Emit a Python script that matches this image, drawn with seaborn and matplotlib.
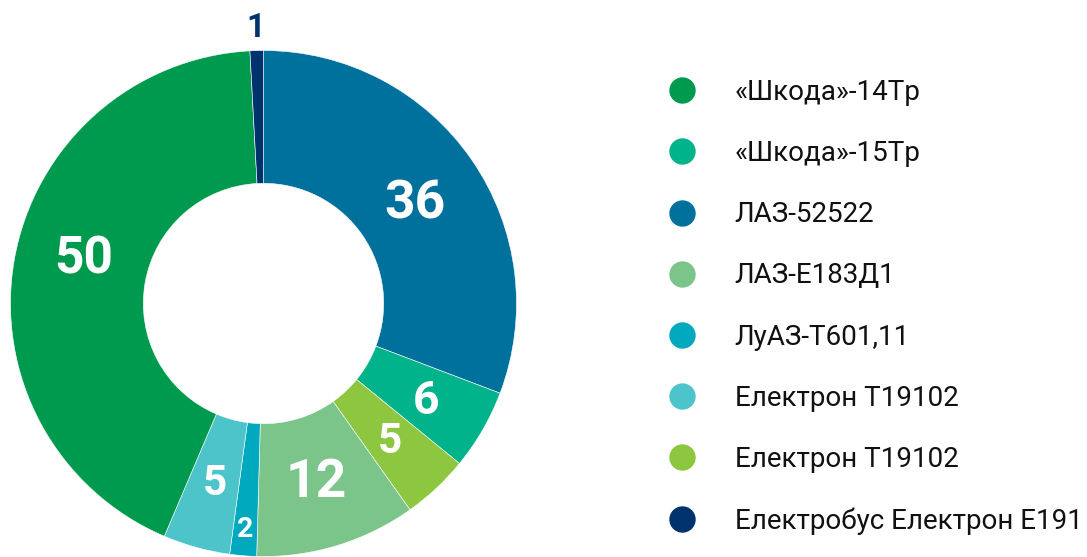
import numpy as np
import seaborn as sns
import matplotlib.pyplot as plt
from matplotlib.lines import Line2D

# slices, clockwise from 12 o'clock
slice_names = ['ЛАЗ-52522', '«Шкода»-15Тр', 'Електрон Т19102 (2)', 'ЛАЗ-Е183Д1',
               'ЛуАЗ-Т601,11', 'Електрон Т19102', '«Шкода»-14Тр', 'Електробус Електрон Е191']
slice_values = [36, 6, 5, 12, 2, 5, 50, 1]
slice_colors = ['#00709c', '#00b38a', '#8dc63f', '#7bc58a',
                '#00a9bd', '#4dc3ca', '#009a4e', '#00326e']

# legend, top to bottom
legend_labels = ['«Шкода»-14Тр', '«Шкода»-15Тр', 'ЛАЗ-52522', 'ЛАЗ-Е183Д1',
                 'ЛуАЗ-Т601,11', 'Електрон Т19102', 'Електрон Т19102',
                 'Електробус Електрон Е191']
legend_colors = ['#009a4e', '#00b38a', '#00709c', '#7bc58a',
                 '#00a9bd', '#4dc3ca', '#8dc63f', '#00326e']

# label styling per slice: font size, radius, angle nudge (deg)
label_size = [38.5, 33.5, 30.5, 38.5, 20.5, 30.5, 37, 23.5]
label_r = [0.727, 0.74, 0.73, 0.72, 0.885, 0.725, 0.735, 1.10]
label_nudge = [0, 0, 0, 0, 0, 0, -5, 0]

sns.set_theme(style='white')
plt.rcParams['font.family'] = ['Roboto', 'DejaVu Sans']

W, H = 1087, 557
fig = plt.figure(figsize=(W / 100, H / 100), dpi=100)
cx, cy, R = 263.5, 303.5, 253
ax = fig.add_axes([(cx - R) / W, (H - cy - R) / H, 2 * R / W, 2 * R / H])

wedges, _ = ax.pie(slice_values, colors=slice_colors, startangle=90,
                   counterclock=False,
                   wedgeprops={'width': 0.525, 'edgecolor': 'white', 'linewidth': 0.4})
ax.set_xlim(-1, 1)
ax.set_ylim(-1, 1)
ax.set_aspect('equal')
ax.axis('off')

# value labels (glyphs centred vertically on the point)
for w, v, fs, r, nd in zip(wedges, slice_values, label_size, label_r, label_nudge):
    ang = np.deg2rad((w.theta1 + w.theta2) / 2 + nd)
    col = '#00326e' if r > 1 else 'white'
    ax.annotate(str(v), xy=(r * np.cos(ang), r * np.sin(ang)),
                xytext=(0, -0.3555 * fs), textcoords='offset points',
                ha='center', va='baseline', fontsize=fs, fontweight='bold',
                color=col, annotation_clip=False)

fs_leg = 20
handles = [Line2D([], [], marker='o', linestyle='none', markersize=19,
                  markerfacecolor=c, markeredgewidth=0) for c in legend_colors]
fig.legend(handles, legend_labels, loc='upper left',
           bbox_to_anchor=(668 / W, 1 - 79 / H),
           frameon=False, fontsize=fs_leg, labelspacing=1.23, handlelength=1.0,
           handletextpad=1.4, borderaxespad=0, borderpad=0, labelcolor='#111111')

fig.savefig('out.png', dpi=100)
